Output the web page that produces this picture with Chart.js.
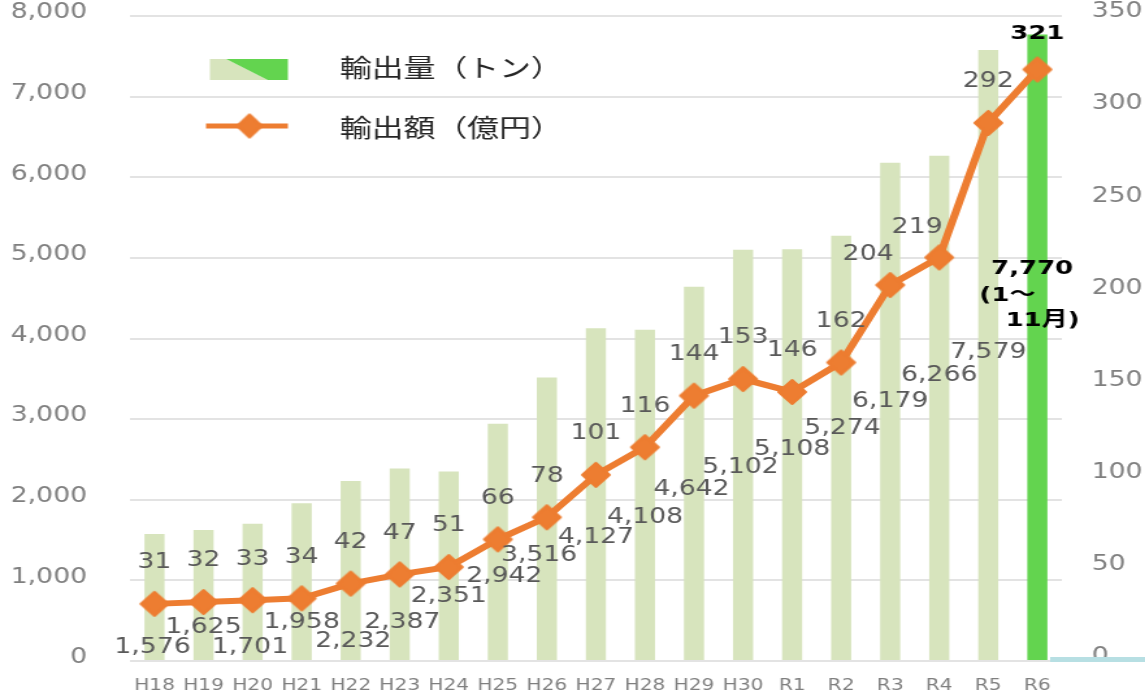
<!DOCTYPE html>
<html>
<head>
<meta charset="utf-8">
<script src="https://cdn.jsdelivr.net/npm/chart.js@4.4.1/dist/chart.umd.min.js"></script>
<style>
  html, body { margin: 0; padding: 0; background: #fff; overflow: hidden; }
  #wrap { width: 881px; height: 695px; transform: scaleX(1.2997); transform-origin: 0 0; }
  canvas { display: block; }
</style>
</head>
<body>
<div id="wrap"><canvas id="c" width="881" height="695" style="width:881px;height:695px"></canvas></div>
<script>
// ---- data ----
const categories = ['H18','H19','H20','H21','H22','H23','H24','H25','H26','H27','H28','H29','H30','R1','R2','R3','R4','R5','R6'];
const volumeTons = [1576,1625,1701,1958,2232,2387,2351,2942,3516,4127,4108,4642,5102,5108,5274,6179,6266,7579,7770];
const valueOku   = [31,32,33,34,42,47,51,66,78,101,116,144,153,146,162,204,219,292,321];
const seriesNames = ['輸出量（トン）', '輸出額（億円）'];
const latestNote = ['(1〜', '11月)'];
const leftTickMax = 8000, leftTickStep = 1000;
const rightTickMax = 350, rightTickStep = 50;

// ---- label layout (pixel nudges, kept apart from the data) ----
const valueLabelDx = [0,0,0,0,0,0,0,0,0,0,0,0,0,0,0,-17,-17,0,0];
const valueLabelDy = [-41,-41,-41,-41,-41,-41,-41,-41,-41,-41,-41,-41,-41,-41,-41,-30,-30,-41,-36];
const barLabelDx = [-1.5,0,-2,0,2,2,0,5,-6,0,0,-2,-2,0,1,0,0,0,0];
const barLabelDy = [44,26,47,24,58,48,30,37,38,63,70,94,89,58,66,117,118,230,0];
const lastLabelDx = [-4,-23,4];
const lastLabelDy = [199,226,251];

// ---- styles ----
const ORANGE = '#ed7d31';
const LIGHT_GREEN = '#d7e4bd';
const BRIGHT_GREEN = '#63d44f';
const NUM_FONT = '"DejaVu Sans", Verdana, sans-serif';
const JP_FONT = '"Noto Sans CJK JP", sans-serif';

function makeDiamond(rx, ry) {
  const c = document.createElement('canvas');
  c.width = Math.ceil(rx * 2 + 2);
  c.height = Math.ceil(ry * 2 + 2);
  const g = c.getContext('2d');
  const cx = c.width / 2, cy = c.height / 2;
  g.fillStyle = ORANGE; g.strokeStyle = ORANGE; g.lineJoin = 'round'; g.lineWidth = 2;
  g.beginPath();
  g.moveTo(cx, cy - ry + 1); g.lineTo(cx + rx - 1, cy); g.lineTo(cx, cy + ry - 1); g.lineTo(cx - rx + 1, cy);
  g.closePath(); g.fill(); g.stroke();
  return c;
}
const diamond = makeDiamond(11.5, 13);
const legendDiamond = makeDiamond(10.5, 12.5);

const labelsPlugin = {
  id: 'labels',
  afterDatasetsDraw(chart) {
    const ctx = chart.ctx;
    const pts = chart.getDatasetMeta(1).data;
    ctx.save();
    ctx.textAlign = 'center';
    ctx.textBaseline = 'middle';
    pts.forEach((pt, i) => {
      const last = i === categories.length - 1;
      ctx.font = last ? 'bold 20px ' + NUM_FONT : '20.5px ' + NUM_FONT;
      ctx.fillStyle = last ? '#000000' : '#595959';
      ctx.fillText(String(valueOku[i]), pt.x + valueLabelDx[i], pt.y + valueLabelDy[i]);
      if (!last) {
        ctx.fillText(volumeTons[i].toLocaleString('en-US'), pt.x + barLabelDx[i], pt.y + barLabelDy[i]);
      } else {
        const lines = [volumeTons[i].toLocaleString('en-US')].concat(latestNote);
        lines.forEach((t, k) => {
          ctx.font = 'bold 20px ' + NUM_FONT + ', ' + JP_FONT;
          ctx.fillText(t, pt.x + lastLabelDx[k], pt.y + lastLabelDy[k]);
        });
      }
    });
    ctx.restore();
  },
  afterDraw(chart) {
    const ctx = chart.ctx;
    ctx.save();
    // legend: bar swatch
    ctx.fillStyle = LIGHT_GREEN;
    ctx.beginPath();
    ctx.moveTo(161.5, 59); ctx.lineTo(174, 59); ctx.lineTo(206, 80); ctx.lineTo(161.5, 80); ctx.closePath(); ctx.fill();
    ctx.fillStyle = BRIGHT_GREEN;
    ctx.beginPath();
    ctx.moveTo(174, 59); ctx.lineTo(221.5, 59); ctx.lineTo(221.5, 80); ctx.lineTo(206, 80); ctx.closePath(); ctx.fill();
    // legend: line + diamond
    ctx.strokeStyle = ORANGE; ctx.lineWidth = 5;
    ctx.beginPath(); ctx.moveTo(158.5, 126); ctx.lineTo(221.5, 126); ctx.stroke();
    ctx.drawImage(legendDiamond, 192 - legendDiamond.width / 2, 126 - legendDiamond.height / 2);
    ctx.fillStyle = '#262626';
    ctx.font = '24.5px ' + JP_FONT;
    ctx.textAlign = 'left'; ctx.textBaseline = 'middle';
    ctx.fillText(chart.data.datasets[0].label, 261.5, 68);
    ctx.fillText(chart.data.datasets[1].label, 261.5, 128);
    // faint light-blue edge at bottom right
    ctx.fillStyle = '#b7dfe3';
    ctx.fillRect(808, 657, 80, 5);
    ctx.restore();
  }
};

function fixVertical(width) {
  return function (s) { s.width = width; s.paddingTop = 0; s.paddingBottom = 0; };
}

new Chart(document.getElementById('c'), {
  data: {
    labels: categories,
    datasets: [
      {
        type: 'bar',
        label: seriesNames[0],
        data: volumeTons,
        yAxisID: 'y',
        backgroundColor: categories.map((c, i) => i === categories.length - 1 ? BRIGHT_GREEN : LIGHT_GREEN),
        borderWidth: 0,
        barPercentage: 0.41,
        categoryPercentage: 1,
        order: 2
      },
      {
        type: 'line',
        label: seriesNames[1],
        data: valueOku,
        yAxisID: 'y1',
        borderColor: ORANGE,
        backgroundColor: ORANGE,
        borderWidth: 6,
        tension: 0,
        pointStyle: diamond,
        pointRadius: 12,
        order: 1
      }
    ]
  },
  options: {
    responsive: false,
    animation: false,
    devicePixelRatio: 1,
    layout: { autoPadding: false, padding: { top: 16, left: 0, right: 0, bottom: 0 } },
    plugins: { legend: { display: false }, tooltip: { enabled: false } },
    scales: {
      x: {
        offset: true,
        grid: { display: false, drawTicks: false },
        border: { display: false },
        ticks: { color: '#7f7f7f', font: { family: NUM_FONT, size: 15.5 }, padding: 16, maxRotation: 0, autoSkip: false },
        afterFit(s) { s.height = 34; s.paddingLeft = 0; s.paddingRight = 0; }
      },
      y: {
        position: 'left',
        min: 0, max: leftTickMax,
        grid: { color: '#e3e3e3', lineWidth: 2, drawTicks: false },
        border: { display: false },
        ticks: {
          stepSize: leftTickStep,
          color: '#7f7f7f',
          font: { family: NUM_FONT, size: 20.5 },
          padding: 33,
          labelOffset: -3,
          callback: v => Number(v).toLocaleString('en-US')
        },
        afterFit: fixVertical(100)
      },
      y1: {
        position: 'right',
        min: 0, max: rightTickMax,
        grid: { display: false, drawTicks: false },
        border: { display: false },
        ticks: {
          stepSize: rightTickStep,
          color: '#7f7f7f',
          font: { family: NUM_FONT, size: 20.5 },
          padding: 23,
          labelOffset: -4
        },
        afterFit: fixVertical(64)
      }
    }
  },
  plugins: [labelsPlugin]
});
</script>
</body>
</html>
